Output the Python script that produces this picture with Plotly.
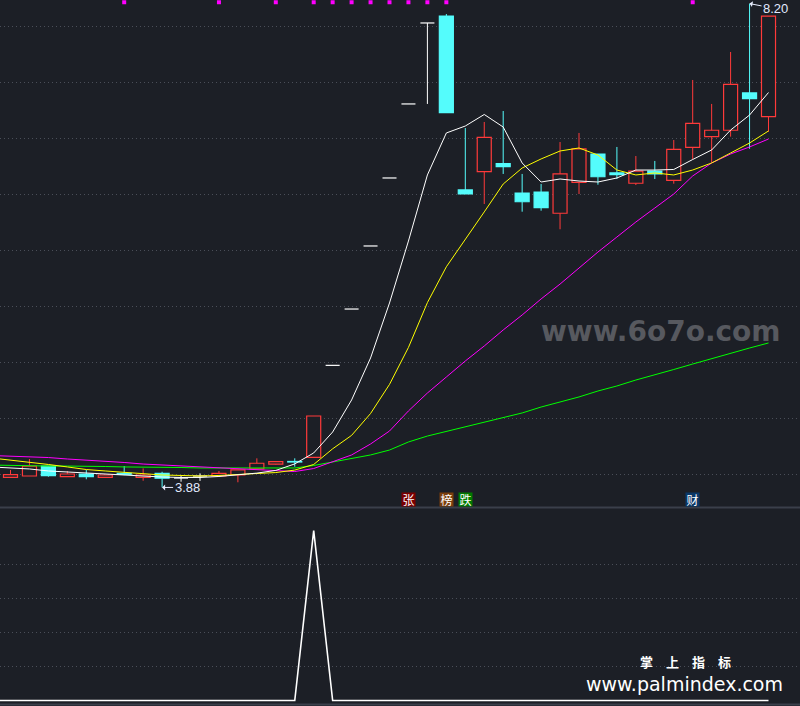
import plotly.graph_objects as go

# ---------------- data ----------------
idx = list(range(41))
opens = [3.970, 3.982, 4.071, 3.976, 4.000, 3.970, 4.006, 3.970, 4.006, 3.964,
         3.982, 3.982, 3.991, 4.045, 4.089, 4.112, 4.149, 4.970, 5.473, 6.036,
         6.643, 7.304, 8.027, 8.089, 6.536, 6.699, 6.771, 6.509, 6.518, 6.328,
         6.604, 6.857, 6.688, 6.596, 6.705, 6.622, 6.917, 7.012, 7.069, 7.402,
         7.190]
highs = [4.036, 4.134, 4.071, 4.027, 4.036, 3.991, 4.071, 4.050, 4.020, 3.988,
         4.006, 4.027, 4.036, 4.140, 4.115, 4.140, 4.518, 4.970, 5.473, 6.036,
         6.643, 7.304, 8.027, 8.107, 7.089, 7.143, 7.241, 6.679, 6.589, 6.964,
         7.045, 6.857, 6.920, 6.839, 6.795, 6.982, 7.518, 7.304, 7.768, 8.200,
         8.089]
lows = [3.970, 3.982, 3.976, 3.976, 3.953, 3.970, 3.990, 3.940, 3.880, 3.931,
        3.938, 3.982, 3.926, 4.045, 4.085, 4.065, 4.149, 4.970, 5.473, 6.036,
        6.643, 7.304, 7.304, 7.226, 6.500, 6.411, 6.679, 6.342, 6.351, 6.185,
        6.500, 6.583, 6.634, 6.580, 6.634, 6.592, 6.810, 6.780, 7.012, 6.904,
        7.056]
closes = [3.994, 4.071, 3.985, 4.000, 3.976, 3.991, 3.997, 3.991, 3.962, 3.964,
          3.982, 4.006, 4.036, 4.096, 4.110, 4.107, 4.518, 4.970, 5.473, 6.036,
          6.643, 7.304, 8.027, 7.226, 6.500, 7.006, 6.744, 6.431, 6.378, 6.679,
          6.902, 6.654, 6.673, 6.705, 6.679, 6.899, 7.131, 7.069, 7.479, 7.351,
          8.089]

ma_idx = list(range(-1, 41))
ma5 = [4.063, 4.054, 4.045, 4.027, 4.018, 4.004, 3.996, 3.991, 3.982, 3.973,
       3.969, 3.969, 3.978, 3.995, 4.008, 4.032, 4.090, 4.188, 4.375, 4.661,
       5.036, 5.527, 6.080, 6.670, 7.045, 7.107, 7.210, 7.098, 6.777, 6.607,
       6.634, 6.616, 6.607, 6.643, 6.714, 6.714, 6.719, 6.808, 6.893, 7.071,
       7.205, 7.406]
ma10 = [4.143, 4.125, 4.103, 4.085, 4.063, 4.040, 4.027, 4.013, 4.000, 3.991,
        3.987, 3.982, 3.987, 3.996, 4.004, 4.013, 4.035, 4.085, 4.225, 4.345,
        4.540, 4.800, 5.130, 5.530, 5.850, 6.090, 6.340, 6.589, 6.732, 6.813,
        6.884, 6.911, 6.848, 6.714, 6.670, 6.688, 6.670, 6.714, 6.777, 6.866,
        6.955, 7.063]
ma20 = [4.165, 4.161, 4.156, 4.147, 4.134, 4.125, 4.116, 4.103, 4.089, 4.080,
        4.076, 4.067, 4.054, 4.045, 4.036, 4.027, 4.022, 4.049, 4.107, 4.170,
        4.268, 4.384, 4.563, 4.723, 4.866, 5.009, 5.143, 5.286, 5.420, 5.563,
        5.696, 5.839, 5.982, 6.116, 6.250, 6.375, 6.500, 6.661, 6.777, 6.857,
        6.920, 6.991]
ma60 = [4.080, 4.076, 4.071, 4.071, 4.071, 4.071, 4.067, 4.063, 4.063, 4.058,
        4.058, 4.054, 4.054, 4.049, 4.049, 4.049, 4.054, 4.076, 4.107, 4.134,
        4.170, 4.214, 4.286, 4.339, 4.379, 4.420, 4.460, 4.500, 4.545, 4.598,
        4.643, 4.688, 4.741, 4.786, 4.839, 4.884, 4.933, 4.982, 5.031, 5.080,
        5.125, 5.170]

ind_vals = [0, 0, 0, 0, 0, 0, 0, 0, 0, 0, 0, 0, 0, 0, 0, 0, 0, 5, 0, 0, 0,
            0, 0, 0, 0, 0, 0, 0, 0, 0, 0, 0, 0, 0, 0, 0, 0, 0, 0, 0, 0, 0]

flag_idx = [6, 11, 14, 16, 17, 18, 19, 20, 21, 22, 23, 36]
sig_idx = [21, 23, 24, 36]
sig_text = ["张", "榜", "跌", "财"]
sig_color = ["#7c0000", "#7a3e0c", "#007a00", "#0a3868"]

# ---------------- style ----------------
BG = "#1c1f26"
RED = "#ff3a3a"
CYAN = "#54fcfc"
WHITE = "#ffffff"
GRID = "#4a4e58"
HALF = 0.37

fig = go.Figure()

up = [i for i in idx if closes[i] > opens[i]]
dn = [i for i in idx if closes[i] < opens[i]]
fl = [i for i in idx if closes[i] == opens[i]]


def wicks(sel):
    xs, ys = [], []
    for i in sel:
        top = max(opens[i], closes[i])
        bot = min(opens[i], closes[i])
        if highs[i] > top:
            xs += [i, i, None]
            ys += [top, highs[i], None]
        if lows[i] < bot:
            xs += [i, i, None]
            ys += [lows[i], bot, None]
    return xs, ys


for sel, col in [(up, RED), (dn, CYAN), (fl, WHITE)]:
    wx, wy = wicks(sel)
    fig.add_trace(go.Scatter(x=wx, y=wy, mode="lines",
                             line=dict(color=col, width=1), hoverinfo="skip"))

# flat (open == close) ticks
tx, ty = [], []
for i in fl:
    tx += [i - HALF, i + HALF, None]
    ty += [opens[i], opens[i], None]
fig.add_trace(go.Scatter(x=tx, y=ty, mode="lines",
                         line=dict(color=WHITE, width=1.2), hoverinfo="skip"))

fig.add_trace(go.Bar(x=up, y=[closes[i] - opens[i] for i in up],
                     base=[opens[i] for i in up], width=0.74,
                     marker=dict(color=BG, line=dict(color=RED, width=1.2)),
                     hoverinfo="skip"))
fig.add_trace(go.Bar(x=dn, y=[opens[i] - closes[i] for i in dn],
                     base=[closes[i] for i in dn], width=0.74,
                     marker=dict(color=CYAN, line=dict(color=CYAN, width=1.2)),
                     hoverinfo="skip"))

for vals, col in [(ma60, "#00ff00"), (ma20, "#ff00ff"), (ma10, "#ffff00"), (ma5, "#ffffff")]:
    fig.add_trace(go.Scatter(x=ma_idx, y=vals, mode="lines",
                             line=dict(color=col, width=1), hoverinfo="skip"))

fig.add_trace(go.Scatter(x=flag_idx, y=[8.212] * len(flag_idx), mode="markers",
                         marker=dict(symbol="square", size=4, color="#ff00ff"),
                         hoverinfo="skip"))

fig.add_trace(go.Scatter(x=ma_idx, y=ind_vals, mode="lines", xaxis="x2", yaxis="y2",
                         line=dict(color=WHITE, width=1.6), hoverinfo="skip"))

lo_i = min(idx, key=lambda i: lows[i])
hi_i = max(idx, key=lambda i: highs[i])

ann = []
ann.append(dict(x=lo_i, y=lows[lo_i], xref="x", yref="y", text=f"{lows[lo_i]:.2f}",
                showarrow=True, ax=25, ay=0, arrowhead=1, arrowsize=1, arrowwidth=1,
                arrowcolor="#e8eeff", standoff=0,
                font=dict(family="Liberation Sans", size=13, color="#e2eaff")))
ann.append(dict(x=hi_i, y=highs[hi_i], xref="x", yref="y", text=f"{highs[hi_i]:.2f}",
                showarrow=True, ax=26, ay=5, arrowhead=1, arrowsize=1, arrowwidth=1,
                arrowcolor="#e8eeff", standoff=0,
                font=dict(family="Liberation Sans", size=13, color="#e2eaff")))
for i, t, c in zip(sig_idx, sig_text, sig_color):
    ann.append(dict(x=i, y=3.768, xref="x", yref="y", text=t, showarrow=False,
                    bgcolor=c, width=13, height=13, borderpad=0,
                    xanchor="center", yanchor="middle",
                    font=dict(family="Noto Sans CJK SC", size=12, color=WHITE)))
ann.append(dict(x=661 / 800, y=(706 - 331) / 706, xref="paper", yref="paper",
                text="<b>www.6o7o.com</b>", showarrow=False,
                xanchor="center", yanchor="middle",
                font=dict(family="DejaVu Sans", size=28, color="#57595f")))
ann.append(dict(x=685 / 800, y=(706 - 661.5) / 706, xref="paper", yref="paper",
                text="<b>掌　上　指　标</b>", showarrow=False,
                xanchor="center", yanchor="middle", borderpad=0,
                font=dict(family="Noto Sans CJK SC", size=13, color=WHITE)))
ann.append(dict(x=684.5 / 800, y=(706 - 683.5) / 706, xref="paper", yref="paper",
                text="www.palmindex.com", showarrow=False,
                xanchor="center", yanchor="middle", borderpad=0,
                font=dict(family="DejaVu Sans", size=19, color=WHITE)))

XR = [-0.554, 41.662]
fig.update_layout(
    width=800, height=706, margin=dict(l=0, r=0, t=0, b=0),
    paper_bgcolor=BG, plot_bgcolor=BG, showlegend=False, barmode="overlay",
    xaxis=dict(range=XR, domain=[0, 1], anchor="y", showgrid=False, zeroline=False,
               showticklabels=False, showline=False),
    xaxis2=dict(range=XR, domain=[0, 1], anchor="y2", showgrid=False, zeroline=False,
                showticklabels=False, showline=False),
    yaxis=dict(domain=[199 / 706, 1], range=[3.7054, 8.2321], tick0=0, dtick=0.5,
               showgrid=True, gridcolor=GRID, gridwidth=1, griddash="1px,3px",
               zeroline=False, showticklabels=False),
    yaxis2=dict(domain=[0, 197 / 706], range=[-0.1618, 5.632], tickmode="array",
                tickvals=[1, 2, 3, 4], showgrid=True, gridcolor=GRID, gridwidth=1,
                griddash="1px,3px", zeroline=False, showticklabels=False),
    annotations=ann,
    shapes=[
        dict(type="line", xref="paper", yref="paper", x0=0, x1=1,
             y0=(706 - 507.5) / 706, y1=(706 - 507.5) / 706,
             line=dict(color="#3a3f4a", width=2)),
        dict(type="line", xref="paper", yref="paper", x0=0, x1=1,
             y0=(706 - 704.5) / 706, y1=(706 - 704.5) / 706,
             line=dict(color="#3a3f4a", width=2)),
    ],
)

fig.write_html("out.html", config={"displayModeBar": False},
               post_script="document.body.style.margin='0';"
                           "document.body.style.overflow='hidden';"
                           "document.body.style.background='" + BG + "';")
